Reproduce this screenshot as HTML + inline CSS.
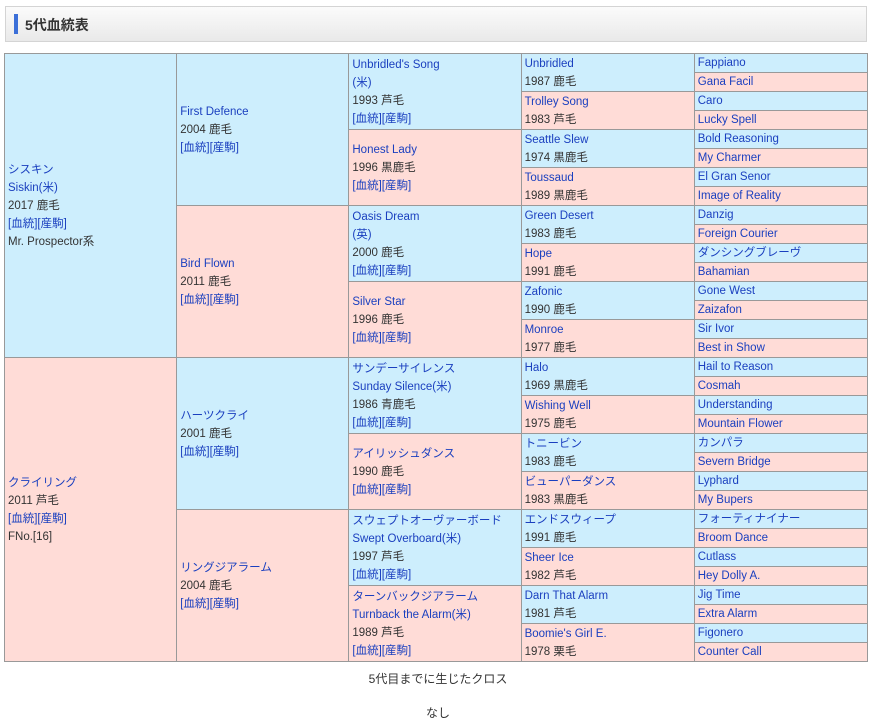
<!DOCTYPE html>
<html><head><meta charset="utf-8"><style>
body{margin:0;width:876px;height:720px;background:#fff;font-family:"Liberation Sans","Noto Sans CJK JP",sans-serif;font-size:12px;color:#333;position:relative;overflow:hidden}
.hdr{position:absolute;left:5px;top:6px;width:860px;height:34px;border:1px solid #d4d4d4;background:linear-gradient(#fbfbfb,#e9e9e9)}
.hdr .bar{position:absolute;left:8px;top:7px;width:4px;height:20px;background:#3b6fd8}
.hdr h2{position:absolute;left:19px;top:8px;margin:0;font-size:14px;font-weight:bold;color:#333}
table{position:absolute;left:4px;top:53px;border-collapse:collapse;width:864px;table-layout:fixed}
td{border:1px solid #999;height:18px;padding:0 0 0 3px;line-height:18px;vertical-align:middle;white-space:nowrap;overflow:hidden;font-size:11.5px}
.b{background:#cdeefd}.p{background:#ffdcd7}
a{color:#1a3fbf;text-decoration:none}
.foot{position:absolute;left:0;width:876px;text-align:center;font-size:12px}
</style></head><body>
<div class="hdr"><div class="bar"></div><h2>5代血統表</h2></div>
<table>
<colgroup><col style="width:172px"><col style="width:172px"><col style="width:172px"><col style="width:173px"><col style="width:173px"></colgroup>
<tbody id="tb"></tbody></table>
<div class="foot" style="top:670px">5代目までに生じたクロス</div>
<div class="foot" style="top:704px">なし</div>
<script>
const L='<br><a href="#">[血統]</a><a href="#">[産駒]</a>';
const g1=[['<a href="#">シスキン</a><br><a href="#">Siskin(米)</a><br>2017 鹿毛'+L+'<br>Mr. Prospector系'],['<a href="#">クライリング</a><br>2011 芦毛'+L+'<br>FNo.[16]']];
const g2=['<a href="#">First Defence</a><br>2004 鹿毛'+L,'<a href="#">Bird Flown</a><br>2011 鹿毛'+L,'<a href="#">ハーツクライ</a><br>2001 鹿毛'+L,'<a href="#">リングジアラーム</a><br>2004 鹿毛'+L];
const g3=['<a href="#">Unbridled\'s Song</a><br><a href="#">(米)</a><br>1993 芦毛'+L,'<a href="#">Honest Lady</a><br>1996 黒鹿毛'+L,'<a href="#">Oasis Dream</a><br><a href="#">(英)</a><br>2000 鹿毛'+L,'<a href="#">Silver Star</a><br>1996 鹿毛'+L,'<a href="#">サンデーサイレンス</a><br><a href="#">Sunday Silence(米)</a><br>1986 青鹿毛'+L,'<a href="#">アイリッシュダンス</a><br>1990 鹿毛'+L,'<a href="#">スウェプトオーヴァーボード</a><br><a href="#">Swept Overboard(米)</a><br>1997 芦毛'+L,'<a href="#">ターンバックジアラーム</a><br><a href="#">Turnback the Alarm(米)</a><br>1989 芦毛'+L];
const g4n=['Unbridled','Trolley Song','Seattle Slew','Toussaud','Green Desert','Hope','Zafonic','Monroe','Halo','Wishing Well','トニービン','ビューパーダンス','エンドスウィープ','Sheer Ice','Darn That Alarm',"Boomie's Girl E."];
const g4d=['1987 鹿毛','1983 芦毛','1974 黒鹿毛','1989 黒鹿毛','1983 鹿毛','1991 鹿毛','1990 鹿毛','1977 鹿毛','1969 黒鹿毛','1975 鹿毛','1983 鹿毛','1983 黒鹿毛','1991 鹿毛','1982 芦毛','1981 芦毛','1978 栗毛'];
const g5=['Fappiano','Gana Facil','Caro','Lucky Spell','Bold Reasoning','My Charmer','El Gran Senor','Image of Reality','Danzig','Foreign Courier','ダンシングブレーヴ','Bahamian','Gone West','Zaizafon','Sir Ivor','Best in Show','Hail to Reason','Cosmah','Understanding','Mountain Flower','カンパラ','Severn Bridge','Lyphard','My Bupers','フォーティナイナー','Broom Dance','Cutlass','Hey Dolly A.','Jig Time','Extra Alarm','Figonero','Counter Call'];
const tb=document.getElementById('tb');
function cell(tr,html,span,idx,gen){
  const td=document.createElement('td');
  td.rowSpan=span;td.className=idx%2?'p':'b';td.innerHTML=html;
  
  
  tr.appendChild(td);
}
for(let r=0;r<32;r++){
  const tr=document.createElement('tr');
  
  
  if(r%16==0)cell(tr,g1[r/16],16,r/16,1);
  if(r%8==0)cell(tr,g2[r/8],8,r/8,2);
  if(r%4==0)cell(tr,g3[r/4],4,r/4,3);
  if(r%2==0)cell(tr,'<a href="#">'+g4n[r/2]+'</a><br>'+g4d[r/2],2,r/2,4);
  cell(tr,'<a href="#">'+g5[r]+'</a>',1,r,5);
  tb.appendChild(tr);
}
</script>
</body></html>
